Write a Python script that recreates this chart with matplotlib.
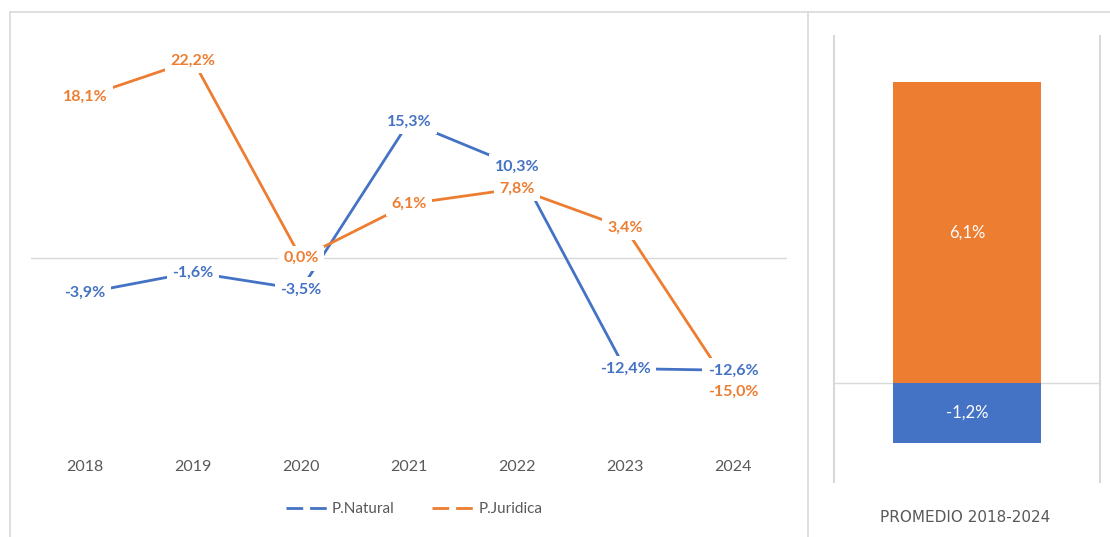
import matplotlib
matplotlib.use("Agg")
import matplotlib.pyplot as plt
from matplotlib.lines import Line2D

years = ["2018", "2019", "2020", "2021", "2022", "2023", "2024"]
natural = [-3.9, -1.6, -3.5, 15.3, 10.3, -12.4, -12.6]
juridica = [18.1, 22.2, 0.0, 6.1, 7.8, 3.4, -15.0]
avg_label = "PROMEDIO 2018-2024"
avg_natural = -1.2
avg_juridica = 6.1

BLUE = "#4472C4"
ORANGE = "#ED7D31"
GRAY = "#595959"
GRID = "#D9D9D9"

plt.rcParams['font.family'] = ['Lato', 'DejaVu Sans']


def pct(v):
    return ("%.1f%%" % v).replace(".", ",")


fig = plt.figure(figsize=(11.1, 5.37), dpi=100)

# line chart
ax = fig.add_axes([31 / 1110, 0.171, 756 / 1110, 0.763])
x = list(range(len(years)))
ax.axhline(0, color=GRID, lw=1, zorder=1)
ax.plot(x, natural, color=BLUE, lw=2, zorder=2)
ax.plot(x, juridica, color=ORANGE, lw=2, zorder=2)
for i in x:
    for vals, col in ((natural, BLUE), (juridica, ORANGE)):
        ax.text(i, vals[i], pct(vals[i]), color=col, fontsize=11.5, fontweight='bold',
                ha='center', va='center', zorder=5,
                bbox=dict(boxstyle='square,pad=0.35', fc='white', ec='none'))
ax.set_xlim(-0.5, len(years) - 0.5)
ax.set_ylim(-21, 25)
ax.set_xticks(x)
ax.set_xticklabels(years, color=GRAY, fontsize=11.5)
ax.tick_params(axis='x', length=0, pad=11)
ax.set_yticks([])
for s in ax.spines.values():
    s.set_visible(False)

handles = [Line2D([], [], color=BLUE, lw=2, dashes=(6, 2.5)),
           Line2D([], [], color=ORANGE, lw=2, dashes=(6, 2.5))]
fig.legend(handles, ["P.Natural", "P.Juridica"], loc='center', bbox_to_anchor=(414 / 1110, 1 - 509 / 537),
           ncol=2, frameon=False, fontsize=11, labelcolor=GRAY, handlelength=2.9,
           handletextpad=0.1, columnspacing=2.5)

# average bar
bx = fig.add_axes([834 / 1110, 1 - 482 / 537, 266 / 1110, 446 / 537])
bx.bar([0], [avg_juridica], width=0.56, color=ORANGE, zorder=2)
bx.bar([0], [avg_natural], width=0.56, color=BLUE, zorder=2)
bx.axhline(0, color=GRID, lw=1, zorder=1)
bx.text(0, avg_juridica / 2, pct(avg_juridica), color='white', fontsize=12, ha='center', va='center', zorder=3)
bx.text(0, avg_natural / 2, pct(avg_natural), color='white', fontsize=12, ha='center', va='center', zorder=3)
bx.set_xlim(-0.5, 0.5)
bx.set_ylim(-2.0, 7.04)
bx.set_xticks([])
bx.set_yticks([])
for k in ('top', 'bottom'):
    bx.spines[k].set_visible(False)
for k in ('left', 'right'):
    bx.spines[k].set_color(GRID)
    bx.spines[k].set_linewidth(1.5)
fig.text(965 / 1110, 1 - 518 / 537, avg_label, color=GRAY, fontsize=11, ha='center', va='center',
         family='DejaVu Sans')

# outer frame lines
fig.add_artist(Line2D([10 / 1110, 10 / 1110], [0, 1 - 12 / 537], color=GRID, lw=1.2))
fig.add_artist(Line2D([10 / 1110, 1], [1 - 12 / 537, 1 - 12 / 537], color=GRID, lw=1.2))
fig.add_artist(Line2D([808 / 1110, 808 / 1110], [0, 1 - 12 / 537], color=GRID, lw=1.2))

fig.savefig("out.png", dpi=100)
